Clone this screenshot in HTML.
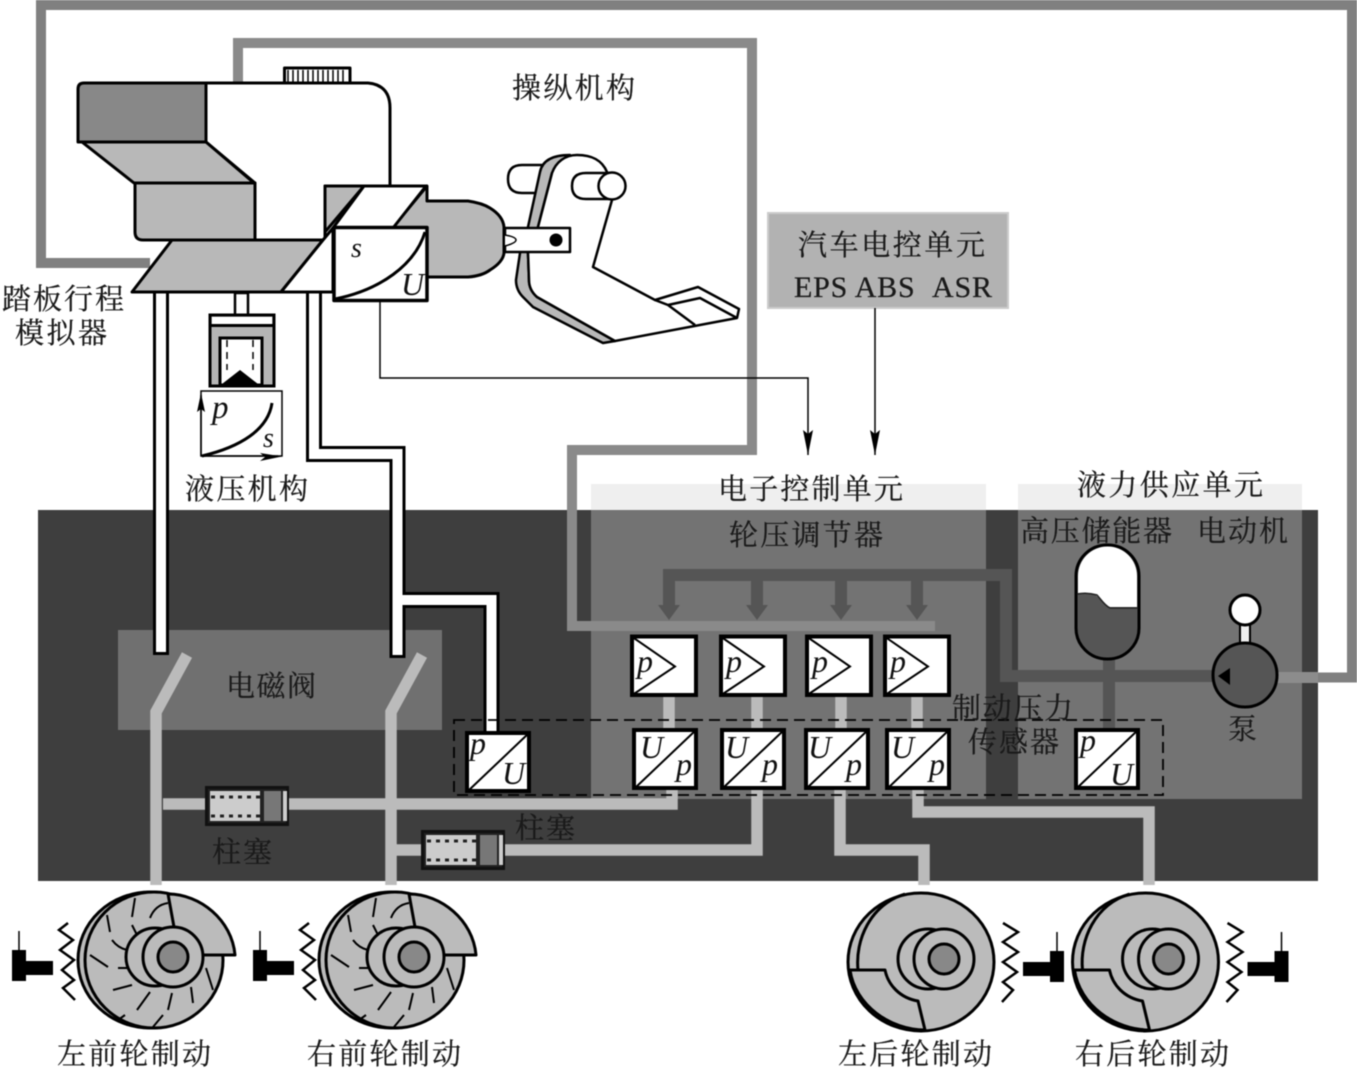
<!DOCTYPE html>
<html><head><meta charset="utf-8"><style>
html,body{margin:0;padding:0;background:#fff}
svg{display:block;filter:blur(0.45px)}
text{font-family:"Liberation Serif","Noto Serif CJK SC",serif;fill:#1a1a1a}
.l{font-size:29px;stroke:#1a1a1a;stroke-width:0.25px}
.i{font-family:"Liberation Serif",serif;font-style:italic;font-size:32px;fill:#111}
</style></head><body>
<svg xmlns="http://www.w3.org/2000/svg" width="1357" height="1069" viewBox="0 0 1357 1069">
<defs>
<g id="fw">
<ellipse cx="150" cy="960" rx="72" ry="68" fill="#bbb" stroke="#000" stroke-width="3"/>
<ellipse cx="154" cy="960" rx="69" ry="68" fill="#bbb" stroke="#000" stroke-width="3"/>
<g stroke="#000" stroke-width="2" fill="none">
<path d="M135,898L132,917M168,903Q155,905 150,918M107,915L110,932M132,925L137,935M112,940Q118,948 127,950M90,955L108,967M118,968H128M113,990L132,985M137,1010L150,992M168,1010L172,993M193,1003L191,987M213,990L206,968M153,1027L163,1015M118,1020L125,1015"/>
</g>
<path d="M168,894C200,894 232,920 235,955L203,955L174,927Z" fill="#bbb" stroke="#000" stroke-width="3" stroke-linejoin="round"/>
<circle cx="155" cy="957" r="29" fill="#bbb" stroke="#000" stroke-width="3"/>
<circle cx="173" cy="957" r="30" fill="#bbb" stroke="#000" stroke-width="3"/>
<circle cx="173" cy="957" r="15" fill="#888" stroke="#000" stroke-width="3"/>
<rect x="12" y="950" width="14" height="31" fill="#000"/>
<rect x="26" y="961" width="27" height="14" fill="#000"/>
<path d="M19,931V950" stroke="#000" stroke-width="1.5"/>
<path d="M68,923L59,930L73,940L60,950L74,960L62,970L74,980L63,988L75,1000" fill="none" stroke="#000" stroke-width="2.5"/>
</g>
<g id="rw">
<ellipse cx="921" cy="962" rx="73" ry="69" fill="#bbb" stroke="#000" stroke-width="3"/>
<path d="M905,894C870,905 855,940 858,970" fill="none" stroke="#000" stroke-width="3"/>
<path d="M850,970L885,970C888,985 900,998 918,1001L925,1030C890,1030 855,1005 850,970Z" fill="#bbb" stroke="#000" stroke-width="3" stroke-linejoin="round"/>
<circle cx="928" cy="959" r="30" fill="#bbb" stroke="#000" stroke-width="3"/>
<circle cx="944" cy="959" r="30" fill="#bbb" stroke="#000" stroke-width="3"/>
<circle cx="944" cy="959" r="15" fill="#888" stroke="#000" stroke-width="3"/>
<rect x="1050" y="951" width="14" height="31" fill="#000"/>
<rect x="1023" y="962" width="27" height="14" fill="#000"/>
<path d="M1057,932V951" stroke="#000" stroke-width="1.5"/>
<path d="M1003,923L1018,932L1003,942L1018,952L1003,962L1017,972L1003,982L1013,990L1002,1002" fill="none" stroke="#000" stroke-width="2.5"/>
</g>
<g id="pbox">
<rect x="2" y="2" width="64" height="58.5" fill="#fff" stroke="#000" stroke-width="4"/>
<path d="M3,3L45,32L3,60" fill="none" stroke="#000" stroke-width="2"/>
</g>
<g id="upbox">
<rect x="2" y="2" width="62" height="58" fill="#fff" stroke="#000" stroke-width="4"/>
<path d="M3,60L64,2" fill="none" stroke="#000" stroke-width="2"/>
</g>
<g id="plg">
<rect x="1.5" y="1.5" width="81" height="37" fill="#222" stroke="#111" stroke-width="3"/>
<rect x="5" y="5" width="50" height="30" fill="#ccc"/>
<path d="M6,11H55M6,30H55" stroke="#222" stroke-width="3" stroke-dasharray="4 5"/>
<rect x="59" y="5" width="17" height="30" fill="#777"/>
<rect x="78" y="5" width="4" height="30" fill="#ccc"/>
</g>
</defs>

<rect width="1357" height="1069" fill="#fff"/>

<!-- outer feedback frame -->
<path d="M150,263H41V5H1352V677.5H1277" fill="none" stroke="#808080" stroke-width="10"/>

<!-- dark panel -->
<rect x="38" y="510" width="1280" height="371" fill="#3e3e3e"/>
<rect x="591" y="484" width="395" height="26" fill="#efefef"/>
<rect x="1018" y="484" width="284" height="26" fill="#efefef"/>
<rect x="591" y="510" width="395" height="289" fill="#737373"/>
<rect x="1018" y="510" width="284" height="289" fill="#737373"/>
<rect x="118" y="630" width="324" height="100" fill="#707070"/>
<path d="M1277,677.5H1318" stroke="#8c8c8c" stroke-width="11"/>

<!-- inner frame -->
<path d="M238,83V43H752V450H572V626H935" fill="none" stroke="#8a8a8a" stroke-width="10"/>

<!-- dark hydraulic pipes -->
<g fill="none" stroke="#555" stroke-width="12">
<path d="M669,606V575H1006V676H1215"/>
<path d="M757,575V606M841,575V606M917,575V606"/>
<path d="M1109,655V730"/>
</g>
<path d="M658,605H680L669,620ZM746,605H768L757,620ZM830,605H852L841,620ZM906,605H928L917,620Z" fill="#555"/>

<!-- light brake pipes -->
<g fill="none" stroke="#bbb" stroke-width="11.5">
<path d="M187,655L156,712V885"/>
<path d="M422,655L391,712V885"/>
<path d="M163,804H672V790"/>
<path d="M392,850H757V790"/>
<path d="M840,790V850H924V885"/>
<path d="M918,790V812H1149V885"/>
<path d="M669,696V728M757,696V728M841,696V728M917,696V728"/>
</g>

<!-- white brake lines -->
<g fill="none" stroke="#000" stroke-width="16"><path d="M161,292V655"/><path d="M314,292V454H397.5V658"/><path d="M397.5,600H491.5V731"/></g>
<g fill="none" stroke="#fff" stroke-width="10"><path d="M161,292V652"/><path d="M314,292V454H397.5V655"/><path d="M397.5,600H491.5V733"/></g>

<!-- plungers -->
<use href="#plg" x="205" y="786"/>
<use href="#plg" x="421" y="830"/>

<!-- dashed sensor box -->
<rect x="454" y="720" width="709" height="75" fill="none" stroke="#000" stroke-width="1.8" stroke-dasharray="11 6"/>

<!-- boxes -->
<use href="#pbox" x="630" y="634.5"/>
<use href="#pbox" x="719" y="634.5"/>
<use href="#pbox" x="805" y="634.5"/>
<use href="#pbox" x="883" y="634.5"/>
<use href="#upbox" x="632" y="728"/>
<use href="#upbox" x="720" y="728"/>
<use href="#upbox" x="804" y="728"/>
<use href="#upbox" x="885" y="728"/>
<use href="#upbox" x="1074" y="728"/>
<use href="#upbox" x="465" y="731"/>
<g>
<text class="i" x="637" y="672">p</text><text class="i" x="726" y="672">p</text><text class="i" x="812" y="672">p</text><text class="i" x="890" y="672">p</text>
<text class="i" x="640" y="758">U</text><text class="i" x="725" y="758">U</text><text class="i" x="808" y="758">U</text><text class="i" x="891" y="758">U</text>
<text class="i" x="676" y="775">p</text><text class="i" x="762" y="775">p</text><text class="i" x="846" y="775">p</text><text class="i" x="929" y="775">p</text>
<text class="i" x="1080" y="751">p</text><text class="i" x="1110" y="785">U</text>
<text class="i" x="470" y="754">p</text><text class="i" x="502" y="784">U</text>
</g>

<!-- accumulator -->
<rect x="1076" y="545" width="63" height="114" rx="31" ry="31" fill="#555" stroke="#000" stroke-width="3"/>
<path d="M1078,594V576A29.5,29.5 0 0 1 1137,576V607H1110C1103,605 1100,597 1095,595Q1085,592 1078,594Z" fill="#fff"/>
<path d="M1077,594Q1087,592 1097,595C1100,598 1104,605 1110,608H1138" fill="none" stroke="#222" stroke-width="1.5"/>

<!-- pump -->
<path d="M1240,624H1250V646H1240Z" fill="#eee" stroke="#000" stroke-width="2"/>
<circle cx="1245" cy="610" r="15" fill="#fff" stroke="#000" stroke-width="3"/>
<ellipse cx="1245" cy="675" rx="32" ry="32" fill="#555" stroke="#000" stroke-width="3"/>
<path d="M1218,676L1230,668V685Z" fill="#000"/>

<!-- master cylinder -->
<g stroke="#000" stroke-width="3" stroke-linejoin="round">
<path d="M206,83H368Q390,85 390,108V186H325V240H255V183L206,142Z" fill="#fff"/>
<path d="M284.5,68H350V83H284.5Z" fill="#fff"/>
<path d="M288,70V83M293,70V83M298,70V83M303,70V83M308,70V83M313,70V83M318,70V83M323,70V83M328,70V83M333,70V83M338,70V83M343,70V83" stroke-width="1.5" fill="none"/>
<path d="M84,83H206V142H78V89Q78,83 84,83Z" fill="#888"/>
<path d="M82,142H206L254,183H134Z" fill="#b8b8b8"/>
<path d="M135,183H255V240H143Q135,240 135,232Z" fill="#b8b8b8"/>
<path d="M427,186V201H468Q482,203 490,208Q503,216 504,227V253Q503,262 490,270Q482,276 468,277H428L393,227Z" fill="#b8b8b8"/>
<path d="M325,186H364L325,232Z" fill="#b8b8b8"/>
<path d="M364,186H426L393,228H333Z" fill="#fff"/>
<path d="M172,240H323L281,292H132Z" fill="#b8b8b8"/>
<path d="M281,292L323,240L333,228V292Z" fill="#fff"/>
<rect x="334" y="227.5" width="93" height="73" fill="#fff" stroke-width="3.5"/>
<path d="M335,299C380,290 415,265 425,232" fill="none"/>
</g>
<text class="i" x="351" y="257" style="font-size:28px">s</text>
<text class="i" x="401" y="295" style="font-size:32px">U</text>

<!-- pedal -->
<g stroke="#000" stroke-width="2.5" stroke-linejoin="round">
<path d="M542,165H522Q508,165 508,179Q508,193 522,193H542Z" fill="#fff"/>
<path d="M570,155C550,155 542,162 540,172L528,227L520,253L516,280Q516,290 523,297L533,307L603,343L615,341L537,297Q529,290 529,280L528,253L538,227L552,173Z" fill="#b8b8b8"/>
<path d="M552,173C556,162 565,155 577,155C592,155 602,160 607,172L612,200L593,267L655,300L698,287L739,309L737,318L615,341L537,297Q529,290 529,280L528,253L538,227Z" fill="#fff"/>
<path d="M655,300L668,305L700,298L737,318M668,305L695,325" fill="none"/>
<path d="M612,173H586Q572,173 572,186Q572,199 586,199H612Z" fill="#fff"/>
<circle cx="612" cy="186" r="13.5" fill="#fff"/>
<rect x="505" y="228" width="65" height="24" fill="#fff"/>
<path d="M505,235Q516,237 516,240Q516,243 505,246" fill="#fff" stroke-width="1.5"/>
</g>
<circle cx="556" cy="240" r="6.5" fill="#000"/>

<!-- simulator -->
<path d="M235,293H248V315H235Z" fill="#fff" stroke="#000" stroke-width="2.5"/>
<rect x="210" y="315" width="64" height="71" fill="#b5b5b5" stroke="#000" stroke-width="3"/>
<rect x="212" y="317" width="60" height="7" fill="#fff"/>
<path d="M211,325.5H274" stroke="#000" stroke-width="3"/>
<rect x="220" y="338" width="42" height="47" fill="#fff" stroke="#000" stroke-width="3"/>
<path d="M227,340V370M253,340V370" stroke="#000" stroke-width="1.5" stroke-dasharray="7 5"/>
<path d="M222,384L240,370L258,384Z" fill="#000"/>
<rect x="201" y="391" width="81" height="65" fill="#fff" stroke="#000" stroke-width="1.5"/>
<path d="M202,456C240,447 268,430 272,403" fill="none" stroke="#000" stroke-width="3"/>
<path d="M201,456V395M201,456H278" stroke="#000" stroke-width="1.5"/>
<path d="M197,412L201,393L205,412L201,409ZM260,453L282,456.5L260,461L265,457Z" fill="#000"/>
<text class="i" x="212" y="418" style="font-size:33px">p</text>
<text class="i" x="263" y="447" style="font-size:28px">s</text>

<!-- control unit -->
<rect x="768" y="213" width="240" height="95" fill="#b2b2b2" stroke="#ccc" stroke-width="2"/>
<path d="M875,308V455" stroke="#000" stroke-width="1.5" fill="none"/>
<path d="M380,302V378H808V455" stroke="#000" stroke-width="1.5" fill="none"/>
<path d="M870,430L875,455L880,430L875,434Z M803,430L808,455L813,430L808,434Z" fill="#000"/>

<!-- wheels -->
<use href="#fw"/>
<use href="#fw" x="241"/>
<use href="#rw"/>
<use href="#rw" x="224.5"/>

<!-- labels -->
<g>
<text class="l" x="512" y="98" textLength="123">操纵机构</text>
<text class="l" x="2" y="309" textLength="122">踏板行程</text>
<text class="l" x="15" y="343" textLength="92">模拟器</text>
<text class="l" x="185" y="499" textLength="123">液压机构</text>
<text class="l" x="798" y="255" textLength="187">汽车电控单元</text>
<text class="l" x="794" y="297" textLength="198" style="font-size:30px">EPS ABS&#160;&#160;ASR</text>
<text class="l" x="718" y="499" textLength="185">电子控制单元</text>
<text class="l" x="729" y="545" textLength="154">轮压调节器</text>
<text class="l" x="1077" y="495" textLength="186">液力供应单元</text>
<text class="l" x="1020" y="541" textLength="152">高压储能器</text>
<text class="l" x="1197" y="541" textLength="91">电动机</text>
<text class="l" x="226" y="696" textLength="90">电磁阀</text>
<text class="l" x="952" y="718" textLength="121">制动压力</text>
<text class="l" x="968" y="752" textLength="91">传感器</text>
<text class="l" x="1228" y="739">泵</text>
<text class="l" x="212" y="862" textLength="60">柱塞</text>
<text class="l" x="515" y="838" textLength="60">柱塞</text>
<text class="l" x="57" y="1064" textLength="154">左前轮制动</text>
<text class="l" x="307" y="1064" textLength="154">右前轮制动</text>
<text class="l" x="838" y="1064" textLength="154">左后轮制动</text>
<text class="l" x="1075" y="1064" textLength="154">右后轮制动</text>
</g>
</svg>
</body></html>
